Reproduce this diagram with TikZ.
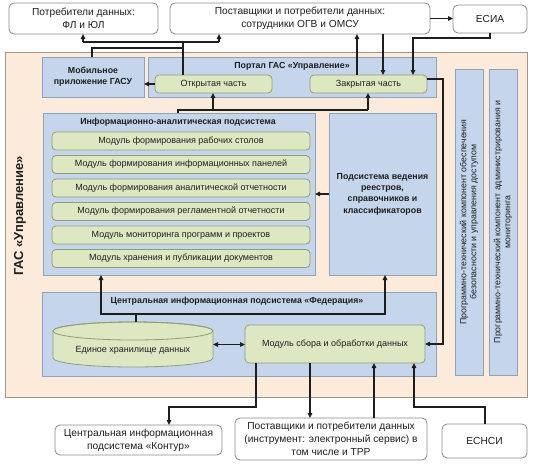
\documentclass[tikz,border=0pt]{standalone}
\usepackage{fontspec}
\setmainfont{Liberation Sans}
\usetikzlibrary{arrows.meta}
\definecolor{peach}{HTML}{FCEBDA}
\definecolor{peachline}{HTML}{A0968A}
\definecolor{bluef}{HTML}{C5D6EC}
\definecolor{bluel}{HTML}{8FA2BA}
\definecolor{greenf}{HTML}{DDE8C3}
\definecolor{greenl}{HTML}{8F9C75}
\definecolor{whl}{HTML}{8A8A8A}
\definecolor{ink}{HTML}{1E1E1E}
\tikzset{
 base/.style={inner sep=1pt, outer sep=0pt, align=center, text=ink},
 whitebox/.style={base, draw=whl, fill=white, rounded corners=5pt, line width=0.8pt, font=\fontsize{10.2}{13}\selectfont},
 framebox/.style={base, draw=peachline, fill=peach, line width=0.8pt},
 bluebox/.style={base, draw=bluel, fill=bluef, line width=0.8pt},
 greenbox/.style={base, draw=greenl, fill=greenf, rounded corners=4pt, line width=0.8pt, font=\fontsize{9}{11}\selectfont},
 ttl/.style={base, font=\bfseries\fontsize{8.8}{11}\selectfont},
 rot/.style={base, rotate=90, font=\fontsize{8.8}{9.8}\selectfont},
 ln/.style={draw=ink, line width=1.1pt},
 arr/.style={ln, -{Triangle[length=5pt,width=4.5pt]}},
 darr/.style={ln, {Triangle[length=5pt,width=4.5pt]}-{Triangle[length=5pt,width=4.5pt]}},
}
\newcommand{\bx}[7]{\node[#2, minimum width={(#5-#3)*1pt}, minimum height={(#6-#4)*1pt}] (#1) at ({(#3+#5)/2},{(#4+#6)/2}) {#7};}
\begin{document}
\begin{tikzpicture}[x=1pt,y=-1pt]
\useasboundingbox (0,0) rectangle (536,467);
% top boxes
\bx{fl}{whitebox}{9}{3}{158}{34}{Потребители данных:\\ФЛ и ЮЛ}
\bx{ogv}{whitebox}{170}{3}{430}{34}{Поставщики и потребители данных:\\сотрудники ОГВ и ОМСУ}
\bx{esia}{whitebox}{453}{5}{527}{33}{ЕСИА}
% main frame
\bx{gas}{framebox}{5}{52}{527}{397}{}
\node[base, rotate=90, font=\bfseries\fontsize{13}{15}\selectfont] (gastxt) at (20,216) {ГАС «Управление»};
% portal row
\bx{mobile}{bluebox}{42}{57}{144}{97}{}
\node[ttl] (mobtxt) at (mobile.center) {Мобильное\\приложение ГАСУ};
\bx{portal}{bluebox}{148}{57}{436}{97}{}
\node[ttl] (porttl) at (292,66) {Портал ГАС «Управление»};
\bx{open}{greenbox}{155}{75}{272}{93}{Открытая часть}
\bx{closed}{greenbox}{310}{75}{427}{93}{Закрытая часть}
% info-analytic
\bx{info}{bluebox}{43}{113}{315}{275}{}
\node[ttl] (infottl) at (178,122) {Информационно-аналитическая подсистема};
\bx{m1}{greenbox}{52}{132}{310}{150}{Модуль формирования рабочих столов}
\bx{m2}{greenbox}{52}{155.5}{310}{173.5}{Модуль формирования информационных панелей}
\bx{m3}{greenbox}{52}{179}{310}{197}{Модуль формирования аналитической отчетности}
\bx{m4}{greenbox}{52}{202.5}{310}{220.5}{Модуль формирования регламентной отчетности}
\bx{m5}{greenbox}{52}{226}{310}{244}{Модуль мониторинга программ и проектов}
\bx{m6}{greenbox}{52}{249.5}{310}{267.5}{Модуль хранения и публикации документов}
\bx{reg}{bluebox}{329}{113}{436}{275}{}
\node[ttl, font=\bfseries\fontsize{8.8}{11.3}\selectfont] (regtxt) at (reg.center) {Подсистема ведения\\реестров,\\справочников и\\классификаторов};
% federation
\bx{fed}{bluebox}{42}{292}{436}{376}{}
\node[ttl] (fedttl) at (237,301) {Центральная информационная подсистема «Федерация»};
\bx{cyl}{base}{53}{322}{213}{367}{}
\filldraw[draw=greenl, fill=greenf, line width=0.8pt] (53,331) -- (53,358) arc[start angle=180,end angle=360,x radius=80pt,y radius=9pt] -- (213,331) arc[start angle=0,end angle=180,x radius=80pt,y radius=9pt] -- cycle;
\draw[draw=greenl, line width=0.8pt] (133,331) ellipse[x radius=80pt,y radius=9pt];
\node[base, font=\fontsize{9}{11}\selectfont] (cyltxt) at (133,350) {Единое хранилище данных};
\bx{collect}{greenbox}{245}{325}{425}{363}{Модуль сбора и обработки данных}
% right components
\bx{sec}{bluebox}{455}{69}{483}{375}{}
\node[rot] (sectxt) at (sec.center) {Программно-технический компонент обеспечения\\безопасности и управления доступом};
\bx{adm}{bluebox}{489}{69}{517}{375}{}
\node[rot] (admtxt) at (adm.center) {Программно-технический компонент администрирования и\\мониторинга};
% bottom boxes
\bx{kontur}{whitebox}{55}{425}{222}{455}{Центральная информационная\\подсистема «Контур»}
\bx{supp}{whitebox}{235}{418}{427}{460}{Поставщики и потребители данных\\(инструмент: электронный сервис) в\\том числе и ТРР}
\bx{esnsi}{whitebox}{442}{424}{527}{458}{ЕСНСИ}
% ---------- connectors
\coordinate (busL) at (83,42);
\coordinate (busR) at (219,42);
\coordinate (busO) at (183,42);
\coordinate (mobK) at (92,48);
\coordinate (mobK2) at (183,48);
\draw[ln] (busO |- open.north) -- (busO);
\draw[ln] (busL) -- (busR);
\draw[arr] (busL) -- (busL |- fl.south);
\draw[arr] (busR) -- (busR |- ogv.south);
\draw[ln] (mobK |- mobile.north) -- (mobK) -- (mobK2);
\draw[arr] (ogv.east) -- (ogv.east -| esia.west);
\coordinate (e1) at (490,38);
\coordinate (e2) at (413,38);
\draw[arr] (esia.south) -- (e1) -- (e2) -- (e2 |- closed.north);
\coordinate (c1) at (357,50);
\coordinate (c2) at (383,50);
\draw[arr] (c1 |- closed.north) -- (c1 |- ogv.south);
\draw[arr] (c2 |- ogv.south) -- (c2 |- closed.north);
\draw[arr] (open.west) -- (open.west -| mobile.east);
\coordinate (i1) at (178,110);
\coordinate (i2) at (368,110);
\coordinate (i3) at (213,110);
\draw[ln] (i1 |- info.north) -- (i1) -- (i2);
\draw[arr] (i2) -- (i2 |- closed.south);
\draw[arr] (i3) -- (i3 |- open.south);
\coordinate (r1) at (443,79);
\draw[arr] (r1 -| closed.east) -- (r1) -- (r1 |- collect.east) -- (collect.east);
\draw[arr] (reg.west) -- (reg.west -| info.east);
\coordinate (f1) at (101,314);
\coordinate (f2) at (385,314);
\coordinate (f3) at (136,314);
\draw[ln] (f3 |- cyl.north) -- (f3);
\draw[arr] (f3) -- (f1) -- (f1 |- info.south);
\draw[arr] (f3) -- (f2) -- (f2 |- reg.south);
\draw[darr] (cyl.east) -- (cyl.east -| collect.west);
\coordinate (k1) at (256,407);
\coordinate (k2) at (169,407);
\draw[arr] (k1 |- collect.south) -- (k1) -- (k2) -- (k2 |- kontur.north);
\coordinate (s1) at (310,400);
\coordinate (s2) at (374,400);
\draw[arr] (s1 |- collect.south) -- (s1 |- supp.north);
\draw[arr] (s2 |- supp.north) -- (s2 |- collect.south);
\coordinate (n1) at (485,407);
\coordinate (n2) at (414,407);
\draw[arr] (n1 |- esnsi.north) -- (n1) -- (n2) -- (n2 |- collect.south);
\end{tikzpicture}
\end{document}
